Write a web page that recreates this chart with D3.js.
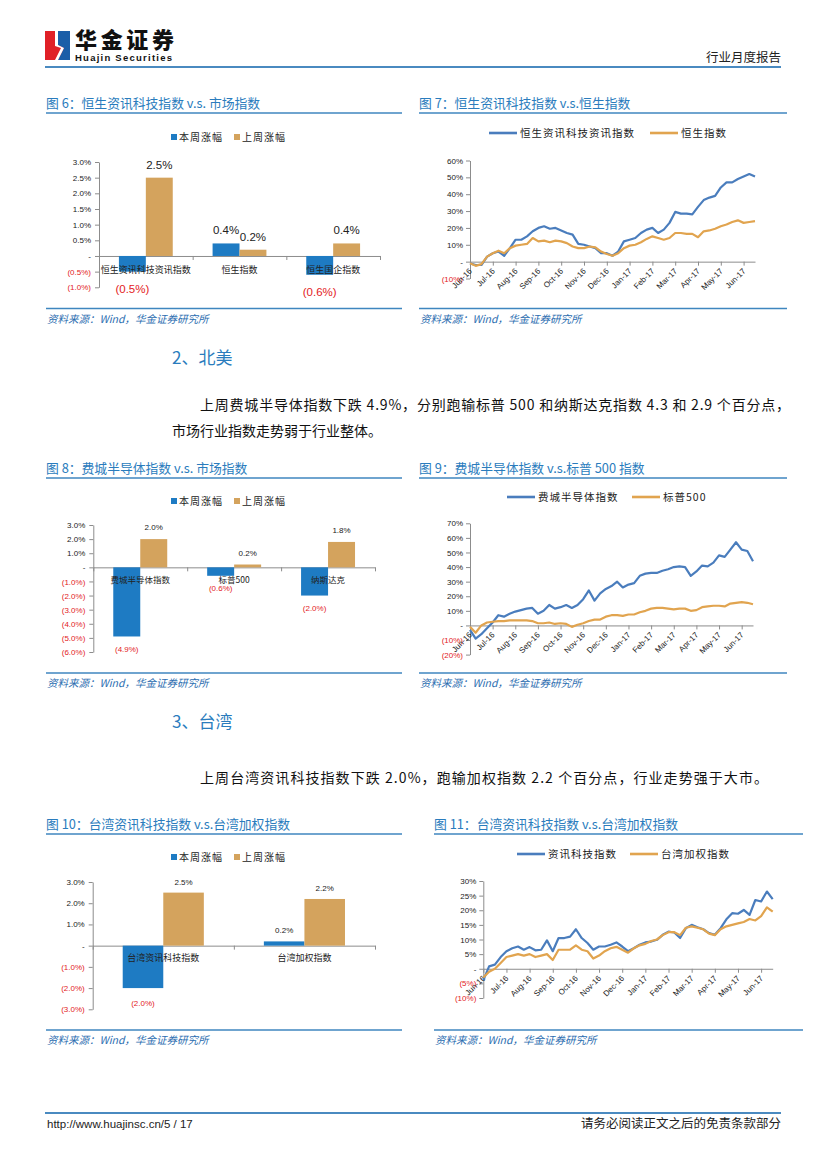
<!DOCTYPE html>
<html>
<head>
<meta charset="utf-8">
<script src="https://cdn.jsdelivr.net/npm/d3@7"></script>
<style>
  body { margin: 0; background: #fff; }
  svg text { font-family: 'Noto Sans CJK SC', 'Noto Sans', sans-serif; }
</style>
</head>
<body>
<div id="page"></div>
<script>
// ---- data ----
const legendBars = ["本周涨幅", "上周涨幅"];

const fig6Categories = ["恒生资讯科技资讯指数", "恒生指数", "恒生国企指数"];
const fig6ThisWeek = [-0.5, 0.4, -0.6];
const fig6LastWeek = [2.5, 0.2, 0.4];
const fig6Ticks = [-1.0, -0.5, 0, 0.5, 1.0, 1.5, 2.0, 2.5, 3.0];

const fig8Categories = ["费城半导体指数", "标普500", "纳斯达克"];
const fig8ThisWeek = [-4.9, -0.6, -2.0];
const fig8LastWeek = [2.0, 0.2, 1.8];
const fig8Ticks = [-6, -5, -4, -3, -2, -1, 0, 1, 2, 3];

const fig10Categories = ["台湾资讯科技指数", "台湾加权指数"];
const fig10ThisWeek = [-2.0, 0.2];
const fig10LastWeek = [2.5, 2.2];
const fig10Ticks = [-3, -2, -1, 0, 1, 2, 3];

const monthLabels = ["Jun-16", "Jul-16", "Aug-16", "Sep-16", "Oct-16", "Nov-16", "Dec-16",
                     "Jan-17", "Feb-17", "Mar-17", "Apr-17", "May-17", "Jun-17"];
const pointsPerMonth = 4; // roughly weekly readings

const fig7Names = ["恒生资讯科技资讯指数", "恒生指数"];
const fig7Tech = [-1, -2, -2, 3, 5, 6, 3.5, 8, 13, 13, 15, 18, 20, 21, 19.5, 20, 18.5, 17, 16, 10.5,
                  10, 9, 8, 5, 5, 3.5, 6, 12, 13, 14, 17, 19, 20, 17, 19, 23, 29.5, 28.5, 28.5, 28,
                  32.5, 36.5, 38, 39, 44, 47, 47, 49, 50.5, 52, 50.5];
const fig7Hsi = [-1, -2.5, -1.5, 3, 5, 6.5, 5, 8, 9.5, 10, 10.5, 14, 12, 12.5, 11.5, 12.5, 12, 11, 9, 8,
                 8, 9, 8.5, 6, 4.5, 3.5, 5, 8, 9.5, 10, 11.5, 13.5, 15, 14, 13, 14, 17, 17, 16.5, 16.5,
                 14.5, 18, 18.5, 19.5, 21, 22, 23.5, 24.5, 23, 23.5, 24];
const fig7Ticks = [-10, 0, 10, 20, 30, 40, 50, 60];

const fig9Names = ["费城半导体指数", "标普500"];
const fig9Sox = [-3, -9, -6, -2, 2, 7, 6, 8, 9.5, 10.5, 11.5, 12, 8, 10, 14, 11.5, 12.5, 14, 12, 14,
                 18, 24, 17, 22, 25, 27, 30, 26, 28, 29, 34, 35.5, 36, 36, 37.5, 38.5, 40, 40.5, 40, 34,
                 37, 41, 40.5, 43, 48, 47, 52, 57, 52, 51, 44];
const fig9Spx = [-1, -5, 0, 2, 2.5, 3, 3, 3.5, 3.5, 3.5, 3.5, 3, 1.5, 1.5, 2, 1, 1.5, 1, -1, 0.5,
                 1.5, 3, 4, 4, 6, 7, 7, 6.5, 7.5, 7.5, 9, 10, 11.5, 12, 12, 11.5, 11, 11.5, 11.5, 10,
                 10.5, 12.5, 13, 13.5, 13.5, 13, 15, 15.5, 16, 15.5, 14.5];
const fig9Ticks = [-20, -10, 0, 10, 20, 30, 40, 50, 60, 70];

const fig11Names = ["资讯科技指数", "台湾加权指数"];
const fig11Tech = [-4, 0.8, 1.4, 4, 6, 7, 7.6, 6.5, 7.4, 6.3, 6.5, 9.7, 6, 10.5, 10.5, 11, 13.5, 10.5, 8.8, 6.5,
                   7.6, 7.6, 8.2, 9, 7.6, 6, 7, 8.2, 9, 9.3, 9.9, 11.6, 12.7, 12.4, 10.5, 13.9, 15, 14.2, 13.5, 12.2,
                   11.6, 13.9, 16.9, 19, 18.8, 20.1, 18.4, 23.5, 23, 26.4, 23.8];
const fig11Taiex = [-3, -1, 0, 2, 4, 4.5, 5, 4.5, 5, 4, 4.5, 5, 3, 6.5, 6.5, 6.5, 8, 6.5, 6, 3.5,
                    4.5, 6, 7, 7.5, 6.5, 5.5, 7, 8, 8.5, 9.5, 10, 11.5, 12.5, 12.5, 11.5, 14, 14.5, 14, 13.5, 12,
                    11.5, 13.5, 14.5, 15, 15.5, 16, 17, 16.5, 18, 21, 19.5];
const fig11Ticks = [-10, -5, 0, 5, 10, 15, 20, 25, 30];

// ---- styles ----
const titleBlue = "#2a7cbd";
const ruleBlue = "#3f86bf";
const barBlue = "#1e7bc3";
const barTan = "#d4a35d";
const lineBlue = "#4a7dbd";
const lineTan = "#e1a44f";
const negRed = "#e3211c";
const axisGrey = "#8c8c8c";
const latin = "'Liberation Sans', Arial, 'Noto Sans CJK SC', sans-serif";

const fmtBar = v => v === 0 ? "-" : v < 0 ? `(${(-v).toFixed(1)}%)` : `${v.toFixed(1)}%`;
const fmtLine = v => v === 0 ? "-" : v < 0 ? `(${-v}%)` : `${v}%`;

const svg = d3.select("#page").append("svg")
              .attr("width", 827)
              .attr("height", 1169);
svg.append("rect").attr("width", 827).attr("height", 1169).attr("fill", "#fff");

// ---- page header / footer ----
const logo = svg.append("g");
logo.append("rect").attr("x", 45).attr("y", 31).attr("width", 25).attr("height", 29).attr("fill", "#e02027");
logo.append("path").attr("d", "M58,31 L70,31 L70,60 L58,60 L64,48 L58,45 Z").attr("fill", "#1b5ea8");
logo.append("path").attr("d", "M55,31 L58,31 L58,45 L64,48 L58,60 L55,60 L61,48 L55,46 Z").attr("fill", "#fff");
svg.append("text").attr("x", 75).attr("y", 48).attr("font-size", 22).attr("font-weight", 900)
   .attr("textLength", 99).attr("fill", "#111").text("华金证券");
svg.append("text").attr("x", 75).attr("y", 61).attr("font-size", 9.5).attr("font-weight", 700)
   .style("font-family", latin).attr("textLength", 97).attr("fill", "#111").text("Huajin Securities");
svg.append("text").attr("x", 781).attr("y", 62).attr("text-anchor", "end").attr("font-size", 12.5)
   .attr("fill", "#222").text("行业月度报告");
svg.append("line").attr("x1", 45).attr("x2", 781).attr("y1", 67).attr("y2", 67)
   .attr("stroke", "#4a8ac0").attr("stroke-width", 2);

svg.append("line").attr("x1", 45).attr("x2", 781).attr("y1", 1113).attr("y2", 1113)
   .attr("stroke", "#4a8ac0").attr("stroke-width", 2);
svg.append("text").attr("x", 47).attr("y", 1128).attr("font-size", 11.5).style("font-family", latin)
   .attr("fill", "#222").text("http://www.huajinsc.cn/5 / 17");
svg.append("text").attr("x", 781).attr("y", 1128).attr("text-anchor", "end").attr("font-size", 12.5)
   .attr("fill", "#222").text("请务必阅读正文之后的免责条款部分");

// ---- section text ----
function heading(txt, y) {
  svg.append("text").attr("x", 172).attr("y", y).attr("font-size", 17).attr("fill", titleBlue).text(txt);
}
function para(txt, x, y, len) {
  svg.append("text").attr("x", x).attr("y", y).attr("font-size", 14).attr("fill", "#111")
     .attr("textLength", len).attr("lengthAdjust", "spacing").text(txt);
}
heading("2、北美", 364);
para("上周费城半导体指数下跌 4.9%，分别跑输标普 500 和纳斯达克指数 4.3 和 2.9 个百分点，", 200, 410, 590);
para("市场行业指数走势弱于行业整体。", 172, 436, 210);
heading("3、台湾", 728);
para("上周台湾资讯科技指数下跌 2.0%，跑输加权指数 2.2 个百分点，行业走势强于大市。", 200, 783, 568);

// ---- figure frame: title, rules, source ----
function frame(title, x0, x1, titleY, sourceY) {
  svg.append("text").attr("x", x0).attr("y", titleY).attr("font-size", 12.8).attr("fill", titleBlue).text(title);
  svg.append("line").attr("x1", x0).attr("x2", x1).attr("y1", titleY + 5.5).attr("y2", titleY + 5.5)
     .attr("stroke", ruleBlue).attr("stroke-width", 1.3);
  svg.append("line").attr("x1", x0).attr("x2", x1).attr("y1", sourceY - 14).attr("y2", sourceY - 14)
     .attr("stroke", ruleBlue).attr("stroke-width", 1.3);
  svg.append("text").attr("x", x0 + 1).attr("y", sourceY).attr("font-size", 10.5).attr("font-style", "italic")
     .attr("fill", "#2b6db0").text("资料来源：Wind，华金证券研究所");
}
frame("图 6：恒生资讯科技指数 v.s. 市场指数", 46, 402, 107.5, 322.5);
frame("图 7：恒生资讯科技指数 v.s.恒生指数", 419, 787, 107.5, 322.5);
frame("图 8：费城半导体指数  v.s. 市场指数", 46, 402, 472.5, 687);
frame("图 9：费城半导体指数 v.s.标普 500 指数", 419, 787, 472.5, 687);
frame("图 10：台湾资讯科技指数 v.s.台湾加权指数", 46, 402, 828.5, 1044);
frame("图 11：台湾资讯科技指数 v.s.台湾加权指数", 434, 803, 828.5, 1044);

// ---- grouped bar chart ----
function drawBars(cfg) {
  const g = svg.append("g");
  const x = d3.scaleBand().domain(cfg.categories).range([cfg.x0, cfg.x1]);
  const inner = d3.scaleBand().domain(["this", "last"]).range([0, x.bandwidth()]).paddingOuter(0.74);
  const y = d3.scaleLinear()
              .domain([cfg.ticks[0], cfg.ticks[cfg.ticks.length - 1]])
              .range(cfg.yRange);

  g.append("g")
   .attr("transform", `translate(${cfg.x0},0)`)
   .call(d3.axisLeft(y).tickValues(cfg.ticks).tickSize(4).tickSizeOuter(0).tickFormat(fmtBar))
   .call(a => a.selectAll("path,line").attr("stroke", axisGrey))
   .call(a => a.selectAll("text").attr("x", -8).style("font-family", latin).attr("font-size", 8)
               .attr("fill", d => d < 0 ? negRed : "#222"));

  // horizontal axis at zero, ticks on category boundaries
  const edge = d3.scaleLinear().domain([0, cfg.categories.length]).range([cfg.x0, cfg.x1]);
  g.append("g")
   .attr("transform", `translate(0,${y(0)})`)
   .call(d3.axisBottom(edge).tickValues(d3.range(cfg.categories.length + 1))
           .tickSize(4).tickSizeOuter(0).tickFormat(""))
   .call(a => a.selectAll("path,line").attr("stroke", axisGrey));

  const rows = cfg.categories.flatMap((c, i) => [
    {cat: c, key: "this", v: cfg.thisWeek[i]},
    {cat: c, key: "last", v: cfg.lastWeek[i]}
  ]);

  g.selectAll(".bar")
   .data(rows)
   .join("rect")
   .attr("class", "bar")
   .attr("x", d => x(d.cat) + inner(d.key))
   .attr("width", inner.bandwidth())
   .attr("y", d => y(Math.max(0, d.v)))
   .attr("height", d => Math.abs(y(d.v) - y(0)))
   .attr("fill", d => d.key === "this" ? barBlue : barTan);

  g.selectAll(".cat")
   .data(cfg.categories)
   .join("text")
   .attr("class", "cat")
   .attr("x", d => x(d) + x.bandwidth() / 2)
   .attr("y", cfg.catY)
   .attr("text-anchor", "middle")
   .attr("font-size", cfg.catSize)
   .attr("fill", "#222")
   .text(d => d);

  g.selectAll(".val")
   .data(rows)
   .join("text")
   .attr("class", "val")
   .attr("x", d => x(d.cat) + inner(d.key) + inner.bandwidth() / 2)
   .attr("y", d => d.v >= 0 ? y(d.v) - cfg.posGap : y(d.v) + cfg.negGap)
   .attr("text-anchor", "middle")
   .style("font-family", latin)
   .attr("font-size", cfg.valSize)
   .attr("fill", d => d.v < 0 ? negRed : "#222")
   .text(d => fmtBar(d.v));

  // legend
  const lg = g.selectAll(".lg")
              .data(legendBars)
              .join("g")
              .attr("class", "lg")
              .attr("transform", (d, i) => `translate(${171 + i * 63},${cfg.legendY})`);
  lg.append("rect").attr("x", 0).attr("y", -3).attr("width", 6).attr("height", 6)
    .attr("fill", (d, i) => i === 0 ? barBlue : barTan);
  lg.append("text").attr("x", 8).attr("dy", "0.35em").attr("font-size", 10).attr("letter-spacing", 1)
    .attr("fill", "#222").text(d => d);
}

// ---- line chart ----
function drawLines(cfg) {
  const g = svg.append("g");
  const n = cfg.series[0].values.length;
  const x = d3.scaleLinear().domain([0, n - 1]).range([cfg.x0, cfg.x1]);
  const y = d3.scaleLinear()
              .domain([cfg.ticks[0], cfg.ticks[cfg.ticks.length - 1]])
              .range(cfg.yRange);

  g.append("g")
   .attr("transform", `translate(${cfg.x0},0)`)
   .call(d3.axisLeft(y).tickValues(cfg.ticks).tickSize(4).tickSizeOuter(0).tickFormat(fmtLine))
   .call(a => a.selectAll("path,line").attr("stroke", axisGrey))
   .call(a => a.selectAll("text").attr("x", -7).style("font-family", latin).attr("font-size", 8)
               .attr("fill", d => d < 0 ? negRed : "#222"));

  g.append("g")
   .attr("transform", `translate(0,${y(0)})`)
   .call(d3.axisBottom(x)
           .tickValues(monthLabels.map((m, i) => i * pointsPerMonth))
           .tickFormat((d, i) => monthLabels[i])
           .tickSize(4).tickSizeOuter(0))
   .call(a => a.selectAll("path,line").attr("stroke", axisGrey))
   .call(a => a.selectAll("text")
               .attr("x", 0).attr("y", 0).attr("dy", "0.35em")
               .attr("transform", "translate(0,8) rotate(-45)")
               .style("text-anchor", "end")
               .style("font-family", latin)
               .attr("font-size", 8)
               .attr("fill", "#222"));

  const line = d3.line()
                 .x((d, i) => x(i))
                 .y(d => y(d));

  g.selectAll(".series")
   .data(cfg.series)
   .join("path")
   .attr("class", "series")
   .attr("fill", "none")
   .attr("stroke", d => d.color)
   .attr("stroke-width", 2.2)
   .attr("stroke-linejoin", "round")
   .attr("d", d => line(d.values));

  const lg = g.selectAll(".lg")
              .data(cfg.series)
              .join("g")
              .attr("class", "lg")
              .attr("transform", (d, i) => `translate(${cfg.legendX[i]},${cfg.legendY})`);
  lg.append("line").attr("x1", 0).attr("x2", 28).attr("stroke", d => d.color).attr("stroke-width", 2.6);
  lg.append("text").attr("x", 31).attr("dy", "0.35em").attr("font-size", 10.5).attr("letter-spacing", 1)
    .attr("fill", "#222").text(d => d.name);
}

drawBars({categories: fig6Categories, thisWeek: fig6ThisWeek, lastWeek: fig6LastWeek, ticks: fig6Ticks,
          x0: 99, x1: 380, yRange: [287.3, 162], catY: 273, catSize: 9, valSize: 11.5,
          posGap: 9, negGap: 21, legendY: 137});
drawBars({categories: fig8Categories, thisWeek: fig8ThisWeek, lastWeek: fig8LastWeek, ticks: fig8Ticks,
          x0: 93.3, x1: 375, yRange: [652, 525], catY: 583, catSize: 8.5, valSize: 8,
          posGap: 9, negGap: 15.5, legendY: 501});
drawBars({categories: fig10Categories, thisWeek: fig10ThisWeek, lastWeek: fig10LastWeek, ticks: fig10Ticks,
          x0: 92.7, x1: 375, yRange: [1009.3, 882], catY: 961, catSize: 9, valSize: 8,
          posGap: 8, negGap: 17.5, legendY: 857});

drawLines({series: [{name: fig7Names[0], values: fig7Tech, color: lineBlue},
                    {name: fig7Names[1], values: fig7Hsi, color: lineTan}],
           ticks: fig7Ticks, x0: 470, x1: 755, yRange: [278.5, 160.5],
           legendX: [489, 650], legendY: 133});
drawLines({series: [{name: fig9Names[0], values: fig9Sox, color: lineBlue},
                    {name: fig9Names[1], values: fig9Spx, color: lineTan}],
           ticks: fig9Ticks, x0: 470, x1: 753, yRange: [654.6, 523.3],
           legendX: [507, 632], legendY: 497});
drawLines({series: [{name: fig11Names[0], values: fig11Tech, color: lineBlue},
                    {name: fig11Names[1], values: fig11Taiex, color: lineTan}],
           ticks: fig11Ticks, x0: 483.3, x1: 772.7, yRange: [998, 881],
           legendX: [517, 630], legendY: 854});
</script>
</body>
</html>
